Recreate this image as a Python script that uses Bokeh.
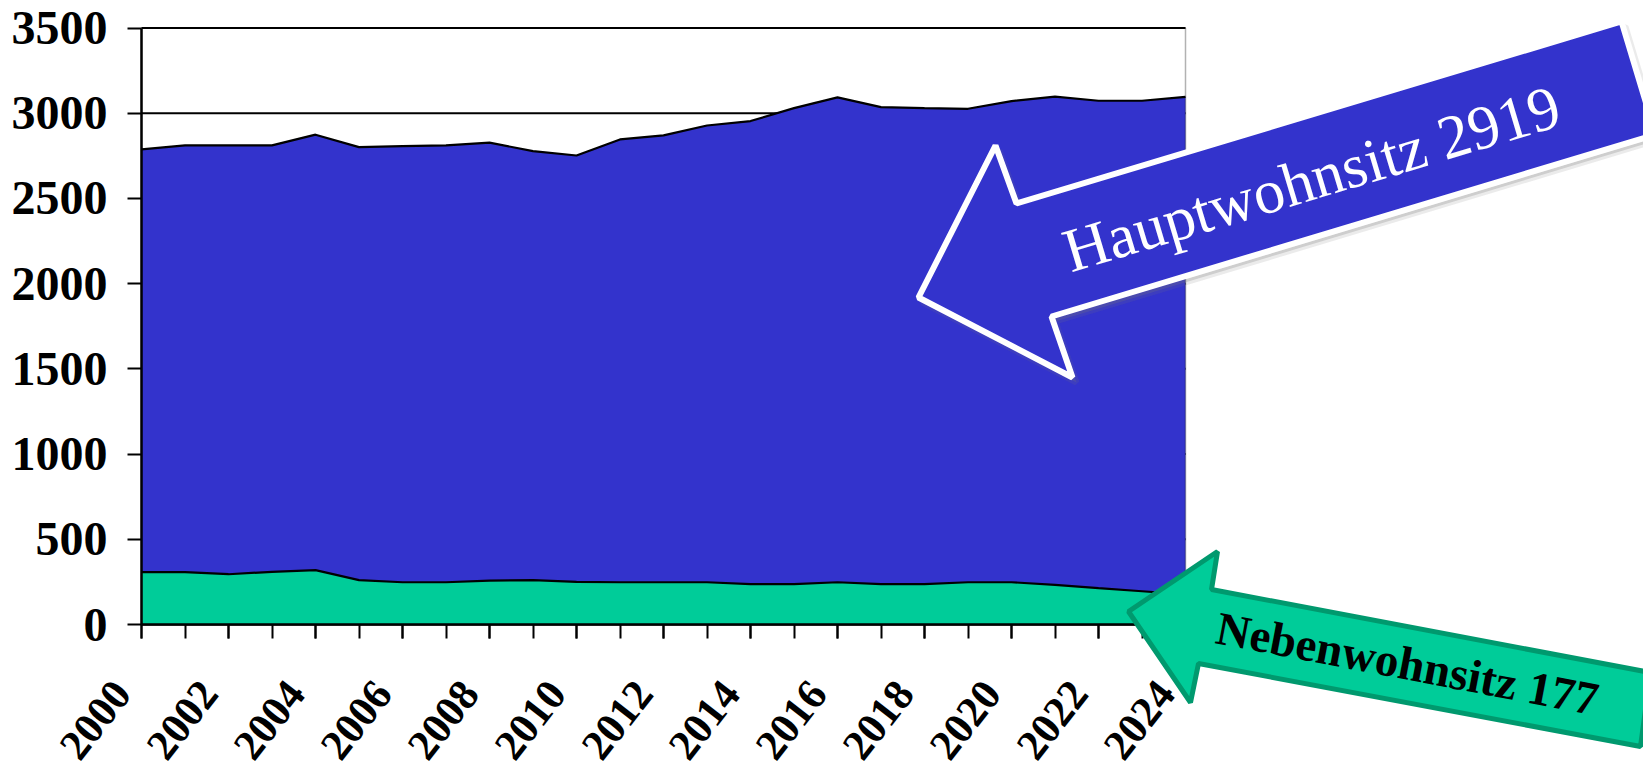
import math
from bokeh.plotting import figure
from bokeh.models import ColumnDataSource, Range1d, FixedTicker, PolyAnnotation, Label, BoxAnnotation
from bokeh.embed import file_html
from bokeh.resources import INLINE

# ---- data ----
years = list(range(2000, 2025))
nebenwohnsitz = [307, 307, 295, 309, 319, 260, 248, 248, 258, 260, 250, 248, 248,
                 248, 237, 237, 248, 237, 237, 248, 248, 233, 213, 195, 177]
hauptwohnsitz = [2481, 2504, 2516, 2502, 2555, 2541, 2559, 2563, 2569, 2518, 2502, 2598, 2622,
                 2680, 2717, 2793, 2845, 2799, 2793, 2778, 2823, 2864, 2860, 2878, 2919]
label_years = list(range(2000, 2025, 2))
y_ticks = [0, 500, 1000, 1500, 2000, 2500, 3000, 3500]
haupt_label = "Hauptwohnsitz 2919"
neben_label = "Nebenwohnsitz 177"

BLUE = "#3333CC"
GREEN = "#00CC99"
GREEN_DARK = "#00996E"
SERIF = "Liberation Serif"

W, H = 1643, 764
X0_PX, X_PX_PER = 141, 1044 / 24          # page px of first year, px per year
Y0_PX, Y_PX_PER = 624, 596.5 / 3500        # page px of zero, px per unit


# helpers: page pixel -> data coordinates (layout of frame and callouts)
def dx(px):
    return years[0] + (px - X0_PX) / X_PX_PER


def dy(py):
    return (Y0_PX - py) / Y_PX_PER


src = ColumnDataSource(dict(year=years, neben=nebenwohnsitz, haupt=hauptwohnsitz))

p = figure(width=W, height=H, output_backend="svg", toolbar_location=None,
           x_range=Range1d(dx(0), dx(W)), y_range=Range1d(dy(H), dy(0)),
           min_border=0, min_border_left=0, min_border_right=0, min_border_top=0,
           min_border_bottom=0,
           background_fill_color="white", border_fill_color="white")
p.outline_line_color = None
p.xgrid.grid_line_color = None
p.ygrid.grid_line_color = None

# horizontal grid lines inside the chart box only
p.segment(x0=years[0], x1=years[-1], y0=y_ticks, y1=y_ticks, line_color="black",
          line_width=2, level="underlay")

p.varea_stack(["neben", "haupt"], x="year", source=src, color=[GREEN, BLUE])
p.vline_stack(["neben", "haupt"], x="year", source=src, color="black", line_width=2.2)

# chart box (right border)
p.add_layout(BoxAnnotation(left=years[0], right=years[-1], bottom=0, top=y_ticks[-1],
                           fill_alpha=0, line_color="black", line_width=1.5))

# axes, pinned to the chart box
p.xaxis.fixed_location = 0
p.yaxis.fixed_location = years[0]
p.xaxis.ticker = FixedTicker(ticks=label_years, minor_ticks=years)
p.yaxis.ticker = FixedTicker(ticks=y_ticks)
p.xaxis.bounds = (years[0], years[-1])
p.yaxis.bounds = (0, y_ticks[-1])
for ax in (p.xaxis[0], p.yaxis[0]):
    ax.axis_line_color = "black"
    ax.axis_line_width = 2.5
    ax.major_tick_line_color = "black"
    ax.major_tick_line_width = 2
    ax.major_tick_out = 14
    ax.major_tick_in = 0
    ax.major_label_text_font = SERIF
    ax.major_label_text_font_style = "bold"
    ax.major_label_text_color = "black"
p.xaxis.minor_tick_line_color = "black"
p.xaxis.minor_tick_line_width = 2
p.xaxis.minor_tick_out = 14
p.xaxis.minor_tick_in = 0
p.yaxis.minor_tick_line_color = None
p.xaxis.major_label_text_font_size = "43px"
p.xaxis.major_label_orientation = math.radians(52)
p.xaxis.major_label_standoff = 22
p.xaxis.major_label_overrides = {y: f"{y}\u00a0\u00a0\u00a0" for y in label_years}
p.yaxis.major_label_text_font_size = "48px"
p.yaxis.major_label_standoff = 20

# callout arrows (page pixel outlines)
blue_arrow = [(918, 297), (995, 145), (1016, 203), (1621, 21), (1655, 134), (1051, 316), (1072, 377)]
green_arrow = [(1128, 611), (1217, 551), (1211, 589), (1650, 672), (1640, 746), (1198, 663), (1190, 702)]

shadow = PolyAnnotation(xs=[dx(x + 4) for x, y in blue_arrow], ys=[dy(y + 5) for x, y in blue_arrow],
                        fill_color="#777777", fill_alpha=0.25, line_color="#777777", line_alpha=0.15,
                        line_width=6)
p.add_layout(shadow)
pa = PolyAnnotation(xs=[dx(x) for x, y in blue_arrow], ys=[dy(y) for x, y in blue_arrow],
                    fill_color=BLUE, fill_alpha=1.0, line_color="white", line_width=6, line_alpha=1.0)
p.add_layout(pa)
p.add_layout(Label(x=dx(1311), y=dy(178), text=haupt_label, angle=math.radians(16.7),
                   text_align="center", text_baseline="middle", text_font=SERIF,
                   text_font_size="62px", text_color="white"))

ga = PolyAnnotation(xs=[dx(x) for x, y in green_arrow], ys=[dy(y) for x, y in green_arrow],
                    fill_color=GREEN, fill_alpha=1.0, line_color=GREEN_DARK, line_width=5, line_alpha=1.0)
p.add_layout(ga)
p.add_layout(Label(x=dx(1407), y=dy(663), text=neben_label, angle=math.radians(-10.8),
                   text_align="center", text_baseline="middle", text_font=SERIF,
                   text_font_style="bold", text_font_size="47px", text_color="black"))

open("out.html", "w").write(file_html(p, INLINE))
